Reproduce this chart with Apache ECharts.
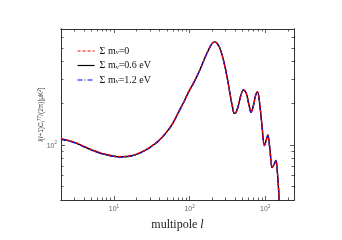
<!DOCTYPE html>
<html><head><meta charset="utf-8">
<script src="https://cdn.jsdelivr.net/npm/echarts@6/dist/echarts.min.js"></script>
<style>html,body{margin:0;padding:0;background:#fff}#c{width:342px;height:240px}</style>
</head><body><div id="c"></div>
<script>
const multipoles = [2, 2.5, 3, 4, 5, 6, 7, 8, 10, 12, 15, 18, 22, 27, 30, 35, 40, 50, 60, 74, 85, 96, 110, 124, 140, 160, 186, 200, 212, 225, 240, 252, 270, 294, 320, 342, 370, 391, 410, 440, 475, 514, 560, 610, 650, 700, 750, 789, 830, 900, 976, 1030, 1081, 1150, 1236, 1300, 1384, 1450, 1528, 1600];
const dlMnu0  = [111, 108, 105, 98, 93, 89.5, 87, 85.5, 83.3, 82.5, 83, 84.5, 88, 93, 96.5, 102.5, 109, 125, 144, 180, 208, 240, 274, 312, 360, 430, 512, 546, 558, 552, 528, 500, 446, 368, 292, 236, 188, 170, 172, 192, 228, 251, 238, 195, 173, 195, 232, 243, 216, 144, 99.5, 108.5, 118.5, 95, 69, 72, 77.5, 63, 41, 28];
const dlMnu06 = [110.5, 107.5, 104.5, 97.5, 92.5, 89, 86.6, 85, 82.9, 82.1, 82.6, 84.1, 87.6, 92.6, 96.1, 102, 108.5, 124.5, 143.5, 179.4, 207.3, 239.2, 273.2, 311, 359, 429, 511, 545, 557, 551, 527, 499, 445, 367, 291, 235.3, 187.4, 169.4, 171.4, 191.3, 227.2, 250.2, 237.2, 194.3, 172.4, 194.3, 231.2, 242.2, 215.3, 143.5, 99.1, 108.1, 118, 94.6, 68.7, 71.7, 77.2, 62.7, 40.8, 27.9];
const dlMnu12 = [110, 107, 104, 97, 92, 88.5, 86.2, 84.6, 82.5, 81.7, 82.2, 83.7, 87.2, 92.2, 95.7, 101.5, 108, 124, 143, 178.8, 206.6, 238.4, 272.4, 310, 358, 428, 510, 544, 556, 550, 526, 498, 444, 366, 290, 234.6, 186.8, 168.8, 170.8, 190.6, 226.4, 249.4, 236.4, 193.6, 171.8, 193.6, 230.4, 241.4, 214.6, 143, 98.7, 107.7, 117.5, 94.2, 68.4, 71.4, 76.9, 62.4, 40.6, 27.8];
const seriesNames = ['\u03a3 m\u03bd=0', '\u03a3 m\u03bd=0.6 eV', '\u03a3 m\u03bd=1.2 eV'];
const legendRich = ['{a|\u03a3 m}{s|\u03bd}{a|=0}', '{a|\u03a3 m}{s|\u03bd}{a|=0.6 eV}', '{a|\u03a3 m}{s|\u03bd}{a|=1.2 eV}'];
const xRange = [2, 2400];
const yRange = [40, 690];
const xMajorTicks = [10, 100, 1000];
const xMinorTicks = [3, 4, 5, 6, 7, 8, 9, 20, 30, 40, 50, 60, 70, 80, 90, 200, 300, 400, 500, 600, 700, 800, 900, 2000];
const yMajorTicks = [100];
const yMinorTicks = [50, 60, 70, 80, 90, 200, 300, 400, 500, 600];

const chart = echarts.init(document.getElementById('c'), null, {renderer: 'canvas'});
const AX = '#333';
const labelRich = {
  b: {fontFamily: 'Liberation Sans', fontSize: 7, color: '#666', lineHeight: 9, verticalAlign: 'bottom'},
  e: {fontFamily: 'Liberation Sans', fontSize: 4.5, color: '#666', lineHeight: 9, verticalAlign: 'top'}
};
function powLabel(v) {
  const e = Math.round(Math.log10(v));
  if (Math.abs(Math.pow(10, e) - v) > 1e-6 * v) return '';
  return '{b|10}{e|' + e + '}';
}
function makeAxis(dim, gridIndex, position, ticks, len, labelVals) {
  const range = dim === 'x' ? xRange : yRange;
  return {
    type: 'log', logBase: 10, gridIndex: gridIndex, position: position,
    min: range[0], max: range[1],
    axisLine: {show: true, onZero: false, lineStyle: {color: AX, width: 1}},
    axisTick: {show: true, inside: true, length: len, customValues: ticks, lineStyle: {color: AX, width: 0.8}},
    axisLabel: labelVals ? {show: true, customValues: labelVals, formatter: powLabel, rich: labelRich, margin: 4} : {show: false},
    splitLine: {show: false}, minorTick: {show: false}, minorSplitLine: {show: false}
  };
}
const grids = [
  {left: 61, right: 48, top: 29, bottom: 40, containLabel: false},
  {left: 61, right: 48, top: 29, bottom: 40, containLabel: false}
];
const xAxes = [
  Object.assign(makeAxis('x', 0, 'bottom', xMinorTicks, 2.5, xMajorTicks), {
    name: '{n|multipole }{i|l}', nameLocation: 'middle', nameGap: 19,
    nameTextStyle: {rich: {
      n: {fontFamily: 'Liberation Serif', fontSize: 12, color: '#222'},
      i: {fontFamily: 'Liberation Serif', fontStyle: 'italic', fontSize: 12, color: '#222'}
    }}
  }),
  makeAxis('x', 0, 'top', xMinorTicks, 2.5, null),
  makeAxis('x', 1, 'bottom', xMajorTicks, 4, null),
  makeAxis('x', 1, 'top', xMajorTicks, 4, null)
];
const yAxes = [
  Object.assign(makeAxis('y', 0, 'left', yMinorTicks, 2.5, yMajorTicks), {
    name: '{i|l}{n|(}{i|l}{n|+1)C}{sub|l}{sup|TT}{n|/(2\u03c0)[\u03bcK}{sup|2}{n|]}',
    nameLocation: 'middle', nameGap: 15, nameRotate: 90, nameMoveOverlap: false,
    nameTextStyle: {rich: {
      n: {fontFamily: 'Liberation Sans', fontSize: 6.5, color: '#444', lineHeight: 9, verticalAlign: 'middle'},
      i: {fontFamily: 'Liberation Sans', fontStyle: 'italic', fontSize: 6.5, color: '#444', lineHeight: 9, verticalAlign: 'middle'},
      sub: {fontFamily: 'Liberation Sans', fontStyle: 'italic', fontSize: 4.5, color: '#444', lineHeight: 9, verticalAlign: 'bottom'},
      sup: {fontFamily: 'Liberation Sans', fontStyle: 'italic', fontSize: 4.5, color: '#444', lineHeight: 9, verticalAlign: 'top'}
    }}
  }),
  makeAxis('y', 0, 'right', yMinorTicks, 2.5, null),
  makeAxis('y', 1, 'left', yMajorTicks, 4, null),
  makeAxis('y', 1, 'right', yMajorTicks, 4, null)
];
function pairs(vals) { return multipoles.map((l, i) => [l, vals[i]]); }
const lineStyles = [
  {color: '#ff0000', width: 1.3, type: [3, 2]},
  {color: '#000000', width: 1.4, type: 'solid'},
  {color: '#0000ff', width: 1.3, type: [5, 2, 1, 2]}
];
const dataSets = [dlMnu0, dlMnu06, dlMnu12];
const zs = [4, 2, 3];
const series = seriesNames.map((name, i) => ({
  name: name, type: 'line', xAxisIndex: 0, yAxisIndex: 0,
  data: pairs(dataSets[i]), smooth: 0.35, showSymbol: false, symbol: 'none',
  lineStyle: lineStyles[i], itemStyle: {color: lineStyles[i].color}, z: zs[i], clip: true, animation: false
}));
chart.setOption({
  animation: false,
  backgroundColor: '#fff',
  grid: grids,
  xAxis: xAxes,
  yAxis: yAxes,
  legend: {
    data: seriesNames, orient: 'vertical', left: 72, top: 41,
    itemWidth: 17, itemHeight: 10, itemGap: 4.5,
    itemStyle: {opacity: 0},
    lineStyle: {width: 1.2},
    formatter: function (name) { return legendRich[seriesNames.indexOf(name)]; },
    textStyle: {rich: {
      a: {fontFamily: 'Liberation Serif', fontSize: 10, color: '#111', lineHeight: 10},
      s: {fontFamily: 'Liberation Serif', fontSize: 6.5, color: '#111', verticalAlign: 'bottom', lineHeight: 10}
    }}
  },
  series: series
});
</script></body></html>
